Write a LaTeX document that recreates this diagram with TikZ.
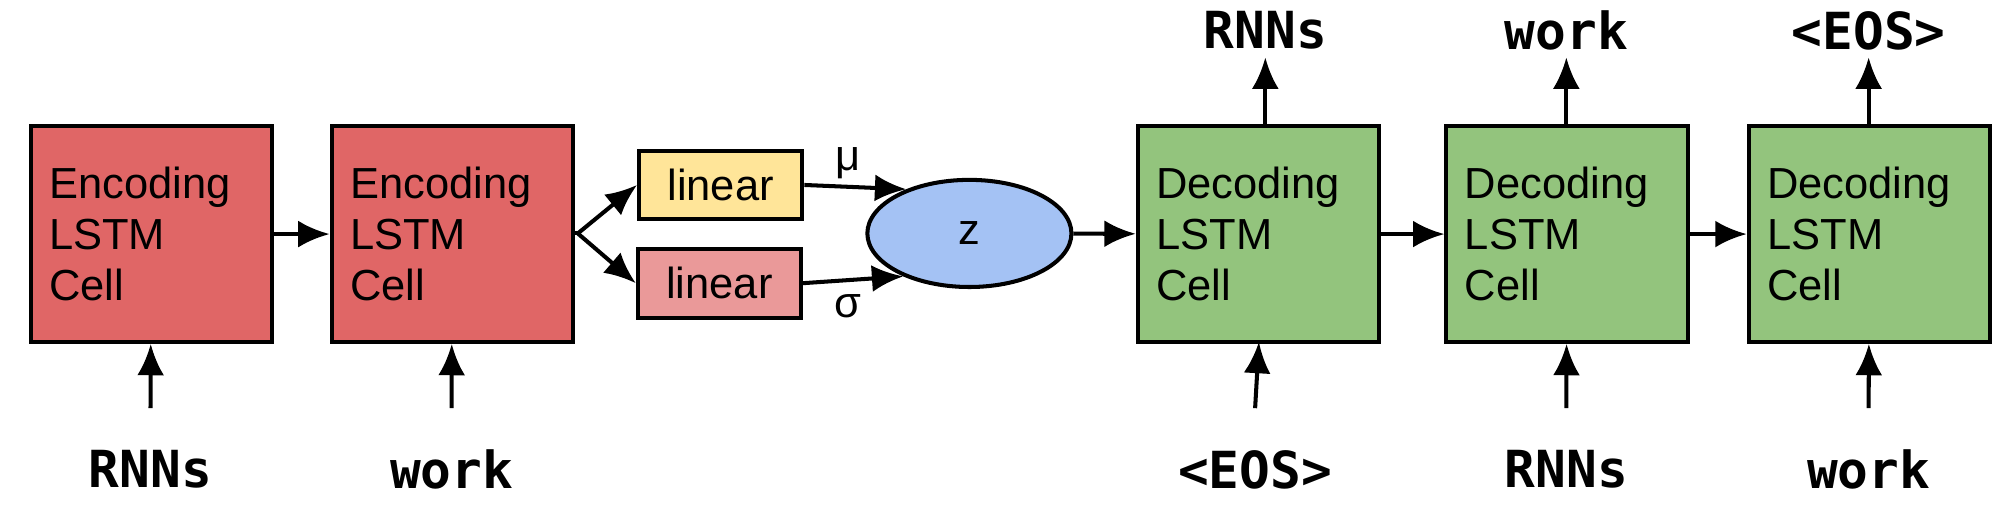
\documentclass[tikz,border=0pt]{standalone}
\usepackage{fontspec}
\setmainfont{Liberation Sans}
\newfontfamily\wordfont{DejaVu Sans Mono}
\usetikzlibrary{positioning, shapes.geometric, arrows.meta}
\definecolor{encred}{HTML}{E06666}
\definecolor{linred}{HTML}{EA9999}
\definecolor{linyel}{HTML}{FFE599}
\definecolor{zblue}{HTML}{A4C2F4}
\definecolor{decgreen}{HTML}{93C47D}
\tikzset{
  cell/.style={draw, line width=0.9pt, minimum width=1.89cm, minimum height=1.69cm,
    align=left, text width=1.6cm, font=\fontsize{9.7}{11.4}\selectfont},
  lin/.style={draw, line width=0.9pt, minimum width=1.28cm, minimum height=0.54cm,
    font=\fontsize{9.7}{12}\selectfont},
  word/.style={font=\fontsize{11.4}{14}\selectfont\wordfont\bfseries},
  arr/.style={-{Latex[length=7pt,width=6pt]}, line width=0.9pt}
}
\begin{document}
\begin{tikzpicture}
  \useasboundingbox (0,0) rectangle (15.68,4.0);
  % encoder
  \node[cell, fill=encred] (enc1) at (1.185,2.165) {Encoding\\LSTM\\Cell};
  \node[cell, fill=encred] (enc2) at (3.545,2.165) {Encoding\\LSTM\\Cell};
  \node[word] (in1) at (1.18,0.32) {RNNs};
  \node[word] (in2) at (3.54,0.32) {work};
  \coordinate (s1) at (1.18,0.8);
  \coordinate (s2) at (3.54,0.8);
  \draw[arr] (s1) -- (enc1);
  \draw[arr] (s2) -- (enc2);
  \draw[arr] (enc1) -- (enc2);
  % latent
  \node[lin, fill=linyel] (mu) at (5.65,2.55) {linear};
  \node[lin, fill=linred] (sigma) at (5.64,1.78) {linear};
  \node[ellipse, draw, line width=0.9pt, fill=zblue, minimum width=1.6cm,
    minimum height=0.84cm, font=\fontsize{9.7}{12}\selectfont] (z) at (7.6,2.17) {z};
  \node[font=\fontsize{9.7}{12}\selectfont] (mulab) at (6.65,2.72) {μ};
  \node[font=\fontsize{9.7}{12}\selectfont] (siglab) at (6.65,1.6) {σ};
  \coordinate (fork) at (4.53,2.17);
  \draw[line width=0.9pt] (enc2.east |- fork) -- (fork);
  \draw[arr] (fork) -- (mu.west);
  \draw[arr] (fork) -- (sigma.west);
  \draw[arr] (mu.east) -- (z.145);
  \draw[arr] (sigma.east) -- (z.213);
  % decoder
  \node[cell, fill=decgreen] (dec1) at (9.865,2.165) {Decoding\\LSTM\\Cell};
  \node[cell, fill=decgreen] (dec2) at (12.285,2.165) {Decoding\\LSTM\\Cell};
  \node[cell, fill=decgreen] (dec3) at (14.655,2.165) {Decoding\\LSTM\\Cell};
  \draw[arr] (z) -- (dec1);
  \draw[arr] (dec1) -- (dec2);
  \draw[arr] (dec2) -- (dec3);
  \node[word] (in3) at (9.84,0.32) {<EOS>};
  \node[word] (in4) at (12.28,0.32) {RNNs};
  \node[word] (in5) at (14.65,0.32) {work};
  \node[word] (out1) at (9.92,3.76) {RNNs};
  \node[word] (out2) at (12.28,3.76) {work};
  \node[word] (out3) at (14.65,3.76) {<EOS>};
  \coordinate (s3) at (9.84,0.8);
  \coordinate (s4) at (12.28,0.8);
  \coordinate (s5) at (14.65,0.8);
  \coordinate (t1) at (9.92,3.55);
  \coordinate (t2) at (12.28,3.55);
  \coordinate (t3) at (14.65,3.55);
  \draw[arr] (s3) -- (9.87,1.32);
  \draw[arr] (s4) -- (dec2);
  \draw[arr] (s5) -- (dec3);
  \draw[arr] (dec1.north -| t1) -- (t1);
  \draw[arr] (dec2.north -| t2) -- (t2);
  \draw[arr] (dec3.north -| t3) -- (t3);
\end{tikzpicture}
\end{document}
